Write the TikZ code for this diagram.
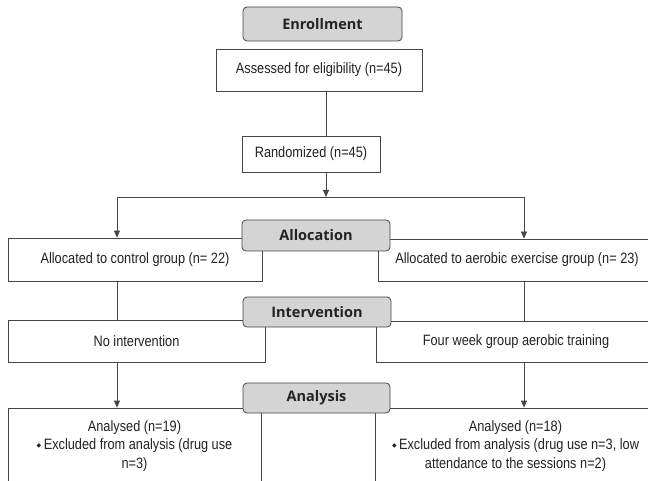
\documentclass[tikz,border=0pt]{standalone}
\usepackage{fontspec}
\setmainfont{Liberation Sans}[FakeStretch=0.85]
\newfontfamily\labelfont{Open Sans}
\newfontfamily\symfont{DejaVu Sans}
\usetikzlibrary{arrows.meta}
\definecolor{lc}{RGB}{70,70,70}
\definecolor{tc}{RGB}{35,35,35}
\definecolor{stagefill}{RGB}{212,212,212}
\newcommand{\dmd}{{\symfont\fontsize{6}{6}\selectfont\raisebox{2pt}{◆}}\,}
\tikzset{
  box/.style={draw=lc, line width=0.8pt, fill=white, rectangle, inner sep=0pt,
    font=\fontsize{15}{18.5}\selectfont, text=tc, align=center},
  stage/.style={draw=lc, line width=0.8pt, fill=stagefill, rounded corners=4pt,
    inner sep=0pt, font=\labelfont\bfseries\fontsize{14.5}{16}\selectfont, text=tc},
  conn/.style={draw=lc, line width=0.8pt},
  arr/.style={conn, -{Triangle[length=7pt,width=6pt]}}
}
\begin{document}
\begin{tikzpicture}[x=1pt,y=-1pt]
\clip (0,0) rectangle (648,481);
\fill[white] (0,0) rectangle (648,481);
% boxes
\node[box, minimum width=206pt, minimum height=42pt] (assess) at (319,70) {Assessed for eligibility (n=45)};
\node[box, minimum width=138pt, minimum height=36pt] (rand) at (311,154) {Randomized (n=45)};
\node[box, minimum width=254pt, minimum height=43pt] (ctrl) at (135,259.5) {Allocated to control group (n= 22)};
\node[box, minimum width=278pt, minimum height=42pt] (aero) at (517,260) {Allocated to aerobic exercise group (n= 23)};
\node[box, minimum width=257pt, minimum height=42pt] (noint) at (136.5,341) {No intervention};
\node[box, minimum width=280pt, minimum height=41pt] (four) at (516,341.5) {Four week group aerobic training};
\node[box, minimum width=253pt, minimum height=76pt] (anl) at (134.5,446) {Analysed (n=19)\\ \dmd Excluded from analysis (drug use\\ n=3)};
\node[box, minimum width=281pt, minimum height=76pt] (anr) at (515.5,446) {Analysed (n=18)\\ \dmd Excluded from analysis (drug use n=3, low\\ attendance to the sessions n=2)};
% connector junctions
\coordinate (top) at (326,197);
\coordinate (jl) at (117,197);
\coordinate (jr) at (524,197);
\draw[conn] (assess.south -| top) -- (rand.north -| top);
\draw[arr] (rand.south -| top) -- (top);
\draw[conn] (jl) -- (jr);
\draw[arr] (jl) -- (ctrl.north -| jl);
\draw[arr] (jr) -- (aero.north -| jr);
\draw[conn] (ctrl.south -| jl) -- (noint.north -| jl);
\draw[conn] (aero.south -| jr) -- (four.north -| jr);
\draw[arr] (noint.south -| jl) -- (anl.north -| jl);
\draw[arr] (four.south -| jr) -- (anr.north -| jr);
% stage labels
\node[stage, minimum width=159pt, minimum height=34pt] (enroll) at (322.5,24) {Enrollment};
\node[stage, minimum width=148pt, minimum height=31pt] (alloc) at (316,235.5) {Allocation};
\node[stage, minimum width=148pt, minimum height=30pt] (interv) at (317,312) {Intervention};
\node[stage, minimum width=147pt, minimum height=30pt] (analysis) at (316.5,398) {Analysis};
\end{tikzpicture}
\end{document}
